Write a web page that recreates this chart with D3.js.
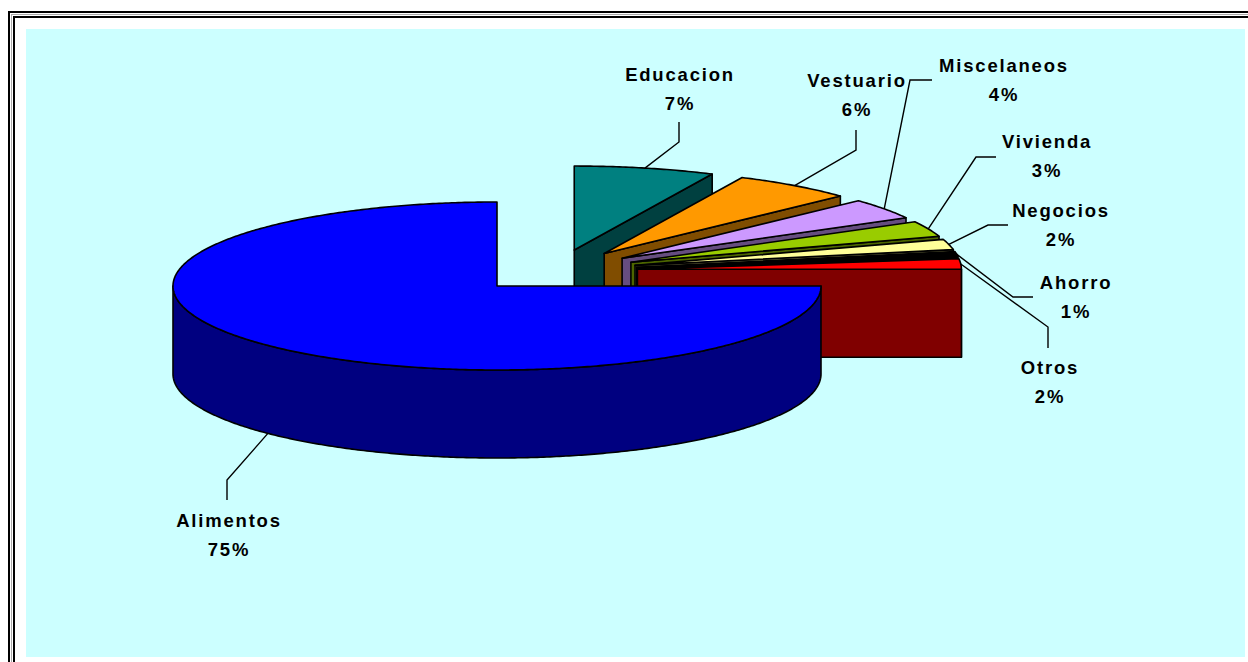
<!DOCTYPE html>
<html>
<head>
<meta charset="utf-8">
<script src="https://cdn.jsdelivr.net/npm/d3@7"></script>
<style>
  body { margin: 0; background: #fff; }
  text { font-family: "Liberation Sans", Arial, sans-serif; font-weight: bold; font-size: 18.5px; letter-spacing: 1.8px; fill: #000; }
</style>
</head>
<body>
<script>
// data (slices start at 12 o'clock, clockwise)
var categories = ["Educacion", "Vestuario", "Miscelaneos", "Vivienda", "Negocios", "Ahorro", "Otros", "Alimentos"];
var values = [7, 6, 4, 3, 2, 1, 2, 75];
var sliceColors = ["#008080", "#ff9900", "#cc99ff", "#99cc00", "#ffff99", "#000000", "#ff0000", "#0000ff"];
var mainSlice = "Alimentos";

// label layout: text centre / first baseline, leader knee and leader end
var labelLayout = [
  {lx: 680, ly: 81, kx: 679, ky: 142, ex: 679, ey: 122},
  {lx: 857, ly: 87, kx: 856, ky: 150, ex: 856, ey: 130},
  {lx: 1004, ly: 72, kx: 910, ky: 80, ex: 932, ey: 80},
  {lx: 1047, ly: 148, kx: 976, ky: 157, ex: 996, ey: 157},
  {lx: 1061, ly: 217, kx: 988, ky: 225, ex: 1008, ey: 225},
  {lx: 1076, ly: 289, kx: 1013, ky: 297, ex: 1033, ey: 297},
  {lx: 1050, ly: 374, kx: 1048, ky: 327, ex: 1048, ey: 348},
  {lx: 229, ly: 527, kx: 227, ky: 480, ex: 227, ey: 500}
];

var W = 1248, H = 662;
var RX = 324, RY = 84, DEPTH = 88;
var center = [497, 286];
var GROUP_EXPLODE = 0.26, SLICE_EXPLODE = 0.25;

var svg = d3.select("body").append("svg")
  .attr("width", W)
  .attr("height", H);

// frame + plot area
svg.append("rect").attr("x", 9).attr("y", 12).attr("width", 1300).attr("height", 700)
  .attr("fill", "none").attr("stroke", "#000").attr("stroke-width", 2);
svg.append("rect").attr("x", 11.5).attr("y", 14.5).attr("width", 1300).attr("height", 700)
  .attr("fill", "none").attr("stroke", "#aaa").attr("stroke-width", 1);
svg.append("rect").attr("x", 14).attr("y", 17).attr("width", 1300).attr("height", 700)
  .attr("fill", "none").attr("stroke", "#000").attr("stroke-width", 2);
svg.append("rect").attr("x", 26).attr("y", 29).attr("width", 1219).attr("height", 628)
  .attr("fill", "#ccffff");

var color = d3.scaleOrdinal().domain(categories).range(sliceColors);
function sideColor(c) {
  var r = d3.rgb(c);
  return d3.rgb(r.r * 0.5, r.g * 0.5, r.b * 0.5).toString();
}

var pie = d3.pie().sort(null).value(function(d, i) { return values[i]; });
var arcs = pie(categories);

// projection of a point on the pie rim
function pt(c, a, dz) {
  return [c[0] + RX * Math.sin(a), c[1] - RY * Math.cos(a) + (dz || 0)];
}
function explodeOffset(a, e) {
  return [RX * e * Math.sin(a), -RY * e * Math.cos(a)];
}
function rim(c, a0, a1, dz) {
  var n = Math.max(2, Math.ceil((a1 - a0) / 0.01));
  return d3.range(n + 1).map(function(i) { return pt(c, a0 + (a1 - a0) * i / n, dz); });
}

var line = d3.line();

// group of exploded slices is pushed out along its own bisector
var small = arcs.filter(function(d) { return d.data !== mainSlice; });
var gMid = (d3.min(small, function(d) { return d.startAngle; }) + d3.max(small, function(d) { return d.endAngle; })) / 2;
var gOff = explodeOffset(gMid, GROUP_EXPLODE);

arcs.forEach(function(d) {
  var mid = (d.startAngle + d.endAngle) / 2;
  if (d.data === mainSlice) {
    d.c = center;
  } else {
    var o = explodeOffset(mid, SLICE_EXPLODE);
    d.c = [center[0] + gOff[0] + o[0], center[1] + gOff[1] + o[1]];
  }
  d.mid = mid;
});

var g = svg.append("g")
  .attr("stroke", "#000")
  .attr("stroke-width", 1.6)
  .attr("stroke-linejoin", "round");

// back slices first, main slice last (it sits in front)
var order = small.concat(arcs.filter(function(d) { return d.data === mainSlice; }));

order.forEach(function(d) {
  var c = d.c, a0 = d.startAngle, a1 = d.endAngle;
  var top = color(d.data), side = sideColor(top);

  // curved outer wall (front half only)
  var s0 = Math.max(a0, Math.PI / 2), s1 = Math.min(a1, 3 * Math.PI / 2);
  if (s1 > s0) {
    var pts = rim(c, s0, s1, 0).concat(rim(c, s0, s1, DEPTH).reverse());
    g.append("path").attr("d", line(pts) + "Z").attr("fill", side);
  }
  // radial end face
  if (Math.sin(a1) > 0.001) {
    var p = pt(c, a1, 0);
    g.append("path")
      .attr("d", line([c, p, [p[0], p[1] + DEPTH], [c[0], c[1] + DEPTH]]) + "Z")
      .attr("fill", side);
  }
  // radial start face
  if (Math.sin(a0) < -0.001) {
    var q = pt(c, a0, 0);
    g.append("path")
      .attr("d", line([c, q, [q[0], q[1] + DEPTH], [c[0], c[1] + DEPTH]]) + "Z")
      .attr("fill", side);
  }
  // top face
  g.append("path")
    .attr("d", line([c].concat(rim(c, a0, a1, 0))) + "Z")
    .attr("fill", top);
});

// leader lines and labels
arcs.forEach(function(d, i) {
  var L = labelLayout[i];
  var front = Math.cos(d.mid) < 0;
  var anchor = pt(d.c, d.mid, front ? DEPTH : 0);
  svg.append("path")
    .attr("d", line([anchor, [L.kx, L.ky], [L.ex, L.ey]]))
    .attr("fill", "none")
    .attr("stroke", "#000")
    .attr("stroke-width", 1.4);

  var t = svg.append("text").attr("text-anchor", "middle");
  t.append("tspan").attr("x", L.lx).attr("y", L.ly).text(d.data);
  t.append("tspan").attr("x", L.lx).attr("y", L.ly + 29).text(values[i] + "%");
});
</script>
</body>
</html>
